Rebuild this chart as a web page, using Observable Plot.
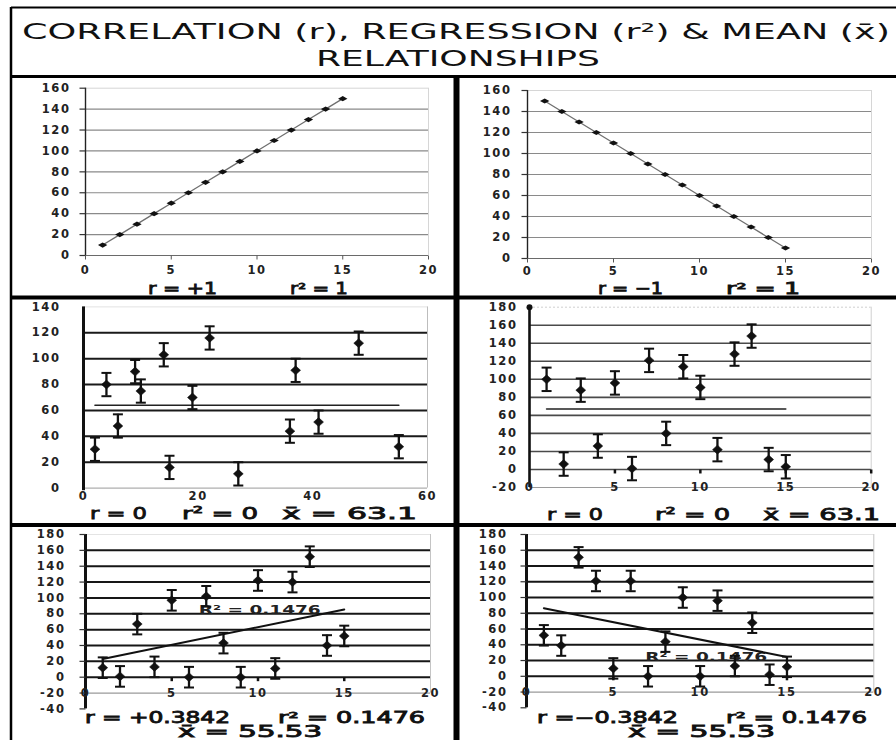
<!DOCTYPE html>
<html><head><meta charset="utf-8">
<script src="https://cdn.jsdelivr.net/npm/d3@7"></script>
<script src="https://cdn.jsdelivr.net/npm/@observablehq/plot@0.6"></script>
<style>
html,body{margin:0;padding:0;background:#fff;}
#wrap{position:relative;width:896px;height:740px;overflow:hidden;background:#fff;}
#overlay{position:absolute;left:0;top:0;z-index:5;pointer-events:none;}
</style></head><body><div id="wrap"></div>
<script>
// ---------------- DATA ----------------
const titleLines = ["CORRELATION (r), REGRESSION (r\u00B2) & MEAN (x\u0304)", "RELATIONSHIPS"];

const p1X = [1,2,3,4,5,6,7,8,9,10,11,12,13,14,15];
const p1Y = [10,20,30,40,50,60,70,80,90,100,110,120,130,140,150];
const p1Stats = ["r = +1", "r\u00B2 = 1"];

const p2X = [1,2,3,4,5,6,7,8,9,10,11,12,13,14,15];
const p2Y = [150,140,130,120,110,100,90,80,70,60,50,40,30,20,10];
const p2Stats = ["r = \u22121", "r\u00B2 = 1"];

const p3X = [2,4,6,9,10,14,15,19,22,27,36,37,41,48,55];
const p3Y = [30,80,48,90,75,103,16,70,116,11,44,91,51,112,32];
const p3Err = [9,9,9,9,9,9,9,9,9,9,9,9,9,9,9];
const p3Mean = [64];
const p3Stats = ["r = 0", "r\u00B2 = 0", "x\u0304 = 63.1"];

const p4X = [1,2,3,4,5,6,7,8,9,10,11,12,13,14,15];
const p4Y = [100,6,88,26,96,1,121,40,114,91,22,128,148,11,3];
const p4Err = [13,13,13,13,13,13,13,13,13,13,13,13,13,13,13];
const p4Mean = [67];
const p4Stats = ["r = 0", "r\u00B2 = 0", "x\u0304 = 63.1"];

const p5X = [1,2,3,4,5,6,7,8,9,10,11,12,13,14,15];
const p5Y = [12,1,67,13,97,0,102,43,0,122,11,120,152,40,52];
const p5Err = [13,13,13,13,13,13,13,13,13,13,13,13,13,13,13];
const p5TrendX = [1, 15];
const p5TrendY = [23, 85.5];
const p5R2 = [{x: 10.1, y: 85, text: "R\u00B2 = 0.1476"}];
const p5Stats = ["r = +0.3842", "r\u00B2 = 0.1476", "x\u0304 = 55.53"];

const p6X = [1,2,3,4,5,6,7,8,9,10,11,12,13,14,15];
const p6Y = [52,39,151,121,10,121,0,44,100,0,96,13,68,2,12];
const p6Err = [13,13,13,13,13,13,13,13,13,13,13,13,13,13,13];
const p6TrendX = [1, 15];
const p6TrendY = [86.5, 24.5];
const p6R2 = [{x: 10.35, y: 24, text: "R\u00B2 = 0.1476"}];
const p6Stats = ["r =\u22120.3842", "r\u00B2 = 0.1476", "x\u0304 = 55.53"];

const ticks20 = [0,5,10,15,20];
const ticks60 = [0,20,40,60];
const yTicks160 = [0,20,40,60,80,100,120,140,160];
const yTicks140 = [0,20,40,60,80,100,120,140];
const yTicks180a = [-20,0,20,40,60,80,100,120,140,160,180];
const yTicks180b = [-40,-20,0,20,40,60,80,100,120,140,160,180];

// ---------------- HELPERS ----------------
const wrap = document.getElementById("wrap");
const zip = (xs, ys, es) => xs.map((x, i) => ({x, y: ys[i], e: es ? es[i] : 0}));
const wideDiamond = k => ({draw(ctx, size){ const r = Math.sqrt(size/Math.PI); ctx.moveTo(-r*k,0); ctx.lineTo(0,-r); ctx.lineTo(r*k,0); ctx.lineTo(0,r); ctx.closePath(); }});
const hline = {draw(ctx, size){ const r = Math.sqrt(size/Math.PI); ctx.moveTo(-r,0); ctx.lineTo(r,0); }};
const vline = {draw(ctx, size){ const r = Math.sqrt(size/Math.PI); ctx.moveTo(0,-r); ctx.lineTo(0,r); }};
const baseStyle = {fontFamily:"'DejaVu Sans', sans-serif", fontSize:"11.5px", fontWeight:"bold", letterSpacing:"1.6px", color:"#1e1e1e", background:"none", overflow:"visible"};

function place(svg, left, top){
  svg.style.position = "absolute"; svg.style.left = left + "px"; svg.style.top = top + "px";
  svg.style.maxWidth = "none";
  wrap.appendChild(svg);
  return svg;
}
function yLabelMark(ticks, x0, dx){ return Plot.text(ticks, {x: () => x0, y: d => d, text: d => String(d), textAnchor: "end", dx, fill: "#222"}); }
function xLabelMark(ticks, y0, dy){ return Plot.text(ticks, {x: d => d, y: () => y0, text: d => String(d), dy, fill: "#222"}); }
function errMarks(pts, sw){
  return [
    Plot.ruleX(pts, {x: "x", y1: d => d.y - d.e, y2: d => d.y + d.e, stroke: "#111", strokeWidth: sw}),
    Plot.dot(pts, {x: "x", y: d => d.y - d.e, symbol: hline, r: 5, stroke: "#111", strokeWidth: 2, fill: "none"}),
    Plot.dot(pts, {x: "x", y: d => d.y + d.e, symbol: hline, r: 5, stroke: "#111", strokeWidth: 2, fill: "none"}),
    Plot.dot(pts, {x: "x", y: "y", symbol: wideDiamond(1.1), r: 4.5, fill: "#111", stroke: "#111", strokeWidth: 0.5})
  ];
}

// ---------------- PANEL 1 & 2 (perfect correlation) ----------------
function linePanel(xs, ys, L){
  const pts = zip(xs, ys);
  return Plot.plot({
    width: L.w, height: L.h, marginLeft: L.ml, marginRight: L.mr, marginTop: L.mt, marginBottom: L.mb,
    style: baseStyle,
    x: {domain: [0, 20], axis: null},
    y: {domain: [0, 160], axis: null},
    marks: [
      Plot.ruleY(yTicks160.slice(1, -1), {stroke: "#8a8a8a", strokeWidth: 1.2}),
      Plot.ruleY([160], {stroke: "#d6d6d6", strokeWidth: 1}),
      Plot.ruleX([20], {y1: 0, y2: 160, stroke: "#d6d6d6", strokeWidth: 1}),
      Plot.ruleY([0], {stroke: "#6a6a6a", strokeWidth: 1.2}),
      Plot.ruleX([0], {y1: 0, y2: 160, stroke: "#222", strokeWidth: 1.4}),
      Plot.dot(yTicks160, {x: () => 0, y: d => d, symbol: hline, r: 3, dx: -3, stroke: "#333", strokeWidth: 1.2}),
      Plot.dot(ticks20, {x: d => d, y: () => 0, symbol: vline, r: 2, dy: 2, stroke: "#555", strokeWidth: 1}),
      Plot.line(pts, {x: "x", y: "y", stroke: "#6f6f6f", strokeWidth: 1.3}),
      Plot.dot(pts, {x: "x", y: "y", symbol: wideDiamond(1.8), r: 2.6, fill: "#111"}),
      yLabelMark(yTicks160, 0, L.ydx),
      xLabelMark(ticks20, 0, L.xdy)
    ]
  });
}
place(linePanel(p1X, p1Y, {w: 450, h: 212, ml: 85, mr: 22, mt: 7.7, mb: 37, ydx: -15, xdy: 15}), 0, 80);
place(linePanel(p2X, p2Y, {w: 441, h: 212, ml: 72, mr: 25, mt: 10, mb: 34, ydx: -16, xdy: 13}), 455, 80);

// ---------------- PANEL 3 (no correlation, x 0-60) ----------------
{
  const pts = zip(p3X, p3Y, p3Err);
  place(Plot.plot({
    width: 450, height: 222, marginLeft: 83, marginRight: 23, marginTop: 6.4, marginBottom: 34.4,
    style: baseStyle,
    x: {domain: [0, 60], axis: null},
    y: {domain: [0, 140], axis: null},
    marks: [
      Plot.ruleY([140], {stroke: "#e2e2e2"}),
      Plot.ruleX([60], {y1: 0, y2: 140, stroke: "#bdbdbd", strokeWidth: 1}),
      Plot.ruleY([0], {stroke: "#9a9a9a", strokeWidth: 1}),
      Plot.ruleY(yTicks140.slice(1, -1), {stroke: "#1a1a1a", strokeWidth: 2}),
      Plot.ruleX([0], {y1: -2, y2: 140, stroke: "#111", strokeWidth: 3}),
      Plot.line(p3Mean.flatMap(m => [{x: d3.min(p3X), y: m}, {x: d3.max(p3X), y: m}]), {x: "x", y: "y", stroke: "#222", strokeWidth: 1.6}),
      ...errMarks(pts, 2.3),
      yLabelMark(yTicks140, 0, -23),
      xLabelMark(ticks60, 0, 8)
    ]
  }), 0, 300);
}

// ---------------- PANEL 4 (no correlation, x 0-20) ----------------
{
  const pts = zip(p4X, p4Y, p4Err);
  place(Plot.plot({
    width: 441, height: 222, marginLeft: 74, marginRight: 25.3, marginTop: 6.7, marginBottom: 35,
    style: baseStyle,
    x: {domain: [0, 20], axis: null},
    y: {domain: [-20, 180], axis: null},
    marks: [
      Plot.ruleY([180], {stroke: "#cfcfcf", strokeDasharray: "2,2"}),
      Plot.ruleX([20], {y1: -20, y2: 180, stroke: "#d0d0d0"}),
      Plot.ruleY([-20], {stroke: "#9a9a9a", strokeWidth: 1.2}),
      Plot.ruleY(yTicks180a.slice(1, -1), {stroke: "#4a4a4a", strokeWidth: 1.6}),
      Plot.ruleX([0], {y1: -20, y2: 180, stroke: "#111", strokeWidth: 2.6}),
      Plot.dot([180], {x: () => 0, y: d => d, r: 3, fill: "#111"}),
      Plot.dot(ticks20.slice(1), {x: d => d, y: () => 0, symbol: vline, r: 2, dy: 2, stroke: "#111", strokeWidth: 2.5}),
      Plot.line(p4Mean.flatMap(m => [{x: d3.min(p4X), y: m}, {x: d3.max(p4X), y: m}]), {x: "x", y: "y", stroke: "#222", strokeWidth: 1.6}),
      ...errMarks(pts, 2.3),
      yLabelMark(yTicks180a, 0, -12),
      xLabelMark(ticks20, -20, 0)
    ]
  }), 455, 300);
}

// ---------------- PANEL 5 & 6 (weak correlation) ----------------
function trendPanel(xs, ys, es, tx, ty, r2, L){
  const pts = zip(xs, ys, es);
  const trend = zip(tx, ty);
  return Plot.plot({
    width: L.w, height: L.h, marginLeft: L.ml, marginRight: L.mr, marginTop: L.mt, marginBottom: L.mb,
    style: baseStyle,
    x: {domain: [0, 20], axis: null},
    y: {domain: [-40, 180], axis: null},
    marks: [
      Plot.ruleY([180], {x1: 0, x2: 20, stroke: "#e4e4e4"}),
      Plot.ruleX([20], {y1: -20, y2: 180, stroke: "#c4c4c4"}),
      Plot.ruleY([-20], {x1: 0, x2: 20, stroke: "#9a9a9a", strokeWidth: 1.2}),
      Plot.ruleY(yTicks180b.slice(2, -1), {x1: 0, x2: 20, stroke: "#161616", strokeWidth: 2}),
      Plot.ruleX([0], {y1: -40, y2: 180, stroke: "#111", strokeWidth: 3}),
      Plot.dot(yTicks180b, {x: () => 0, y: d => d, symbol: hline, r: 3, dx: -3, stroke: "#333", strokeWidth: 1.2}),
      Plot.dot(ticks20.slice(1, -1), {x: d => d, y: () => 0, symbol: vline, r: 2, dy: 2, stroke: "#111", strokeWidth: 2.5}),
      Plot.text(r2, {x: "x", y: "y", text: "text", fontSize: 12, fill: "#222"}),
      Plot.line(trend, {x: "x", y: "y", stroke: "#111", strokeWidth: 2}),
      ...errMarks(pts, 2.3),
      yLabelMark(yTicks180b, 0, L.ydx),
      xLabelMark(ticks20, -20, 0)
    ]
  });
}
place(trendPanel(p5X, p5Y, p5Err, p5TrendX, p5TrendY, p5R2, {w: 450, h: 213, ml: 85, mr: 20, mt: 7, mb: 31.6, ydx: -20}), 0, 527);
place(trendPanel(p6X, p6Y, p6Err, p6TrendX, p6TrendY, p6R2, {w: 441, h: 213, ml: 71, mr: 22.7, mt: 7, mb: 32.7, ydx: -19}), 455, 527);

// stretch R² labels to the width they take in the reference
d3.select(wrap).selectAll("text").filter(function(){ return this.textContent.startsWith("R\u00B2"); })
  .attr("textLength", 122).attr("lengthAdjust", "spacingAndGlyphs").style("letter-spacing", "0px");

// ---------------- OVERLAY: frame, dividers, title, statistics ----------------
const ov = d3.create("svg").attr("id", "overlay").attr("width", 896).attr("height", 740)
  .attr("font-family", "'DejaVu Sans', sans-serif");
const lines = [
  [11, 7.5, 896, 7.5, 2], [11, 7, 11, 740, 2.5], [11, 76.5, 896, 76.5, 3],
  [456.5, 76, 456.5, 740, 6], [11, 297.5, 896, 297.5, 4], [11, 525, 896, 525, 4]
];
ov.selectAll("line").data(lines).join("line")
  .attr("x1", d => d[0]).attr("y1", d => d[1]).attr("x2", d => d[2]).attr("y2", d => d[3])
  .attr("stroke", "#000").attr("stroke-width", d => d[4]);

function stretched(str, x0, x1, baseline, size, weight, sw){
  ov.append("text").attr("x", x0).attr("y", baseline).attr("font-size", size).attr("font-weight", weight)
    .attr("fill", "#111").attr("stroke", "#111").attr("stroke-width", sw)
    .attr("textLength", x1 - x0).attr("lengthAdjust", "spacingAndGlyphs").text(str);
}
stretched(titleLines[0], 22, 890, 39, 21.5, "normal", 0);
stretched(titleLines[1], 316, 600, 66, 21.5, "normal", 0);

const statPos = [
  [p1Stats, [[148, 217, 293.5], [290, 348, 293.5]], 16],
  [p2Stats, [[598, 663, 293.5], [726, 800, 293.5]], 16],
  [p3Stats, [[90, 147, 519], [182, 258, 519], [282, 417, 519]], 16.5],
  [p4Stats, [[547, 603, 520], [655, 730, 520], [763, 880, 520]], 16.5],
  [p5Stats, [[85, 230, 723], [278, 425, 723], [178, 322, 737]], 15],
  [p6Stats, [[537, 678, 722.5], [726, 867, 722.5], [628, 775, 736.5]], 15]
];
for (const [texts, pos, size] of statPos) texts.forEach((t, i) => stretched(t, pos[i][0], pos[i][1], pos[i][2], size, "normal", 0.8));

wrap.appendChild(ov.node());
</script></body></html>
